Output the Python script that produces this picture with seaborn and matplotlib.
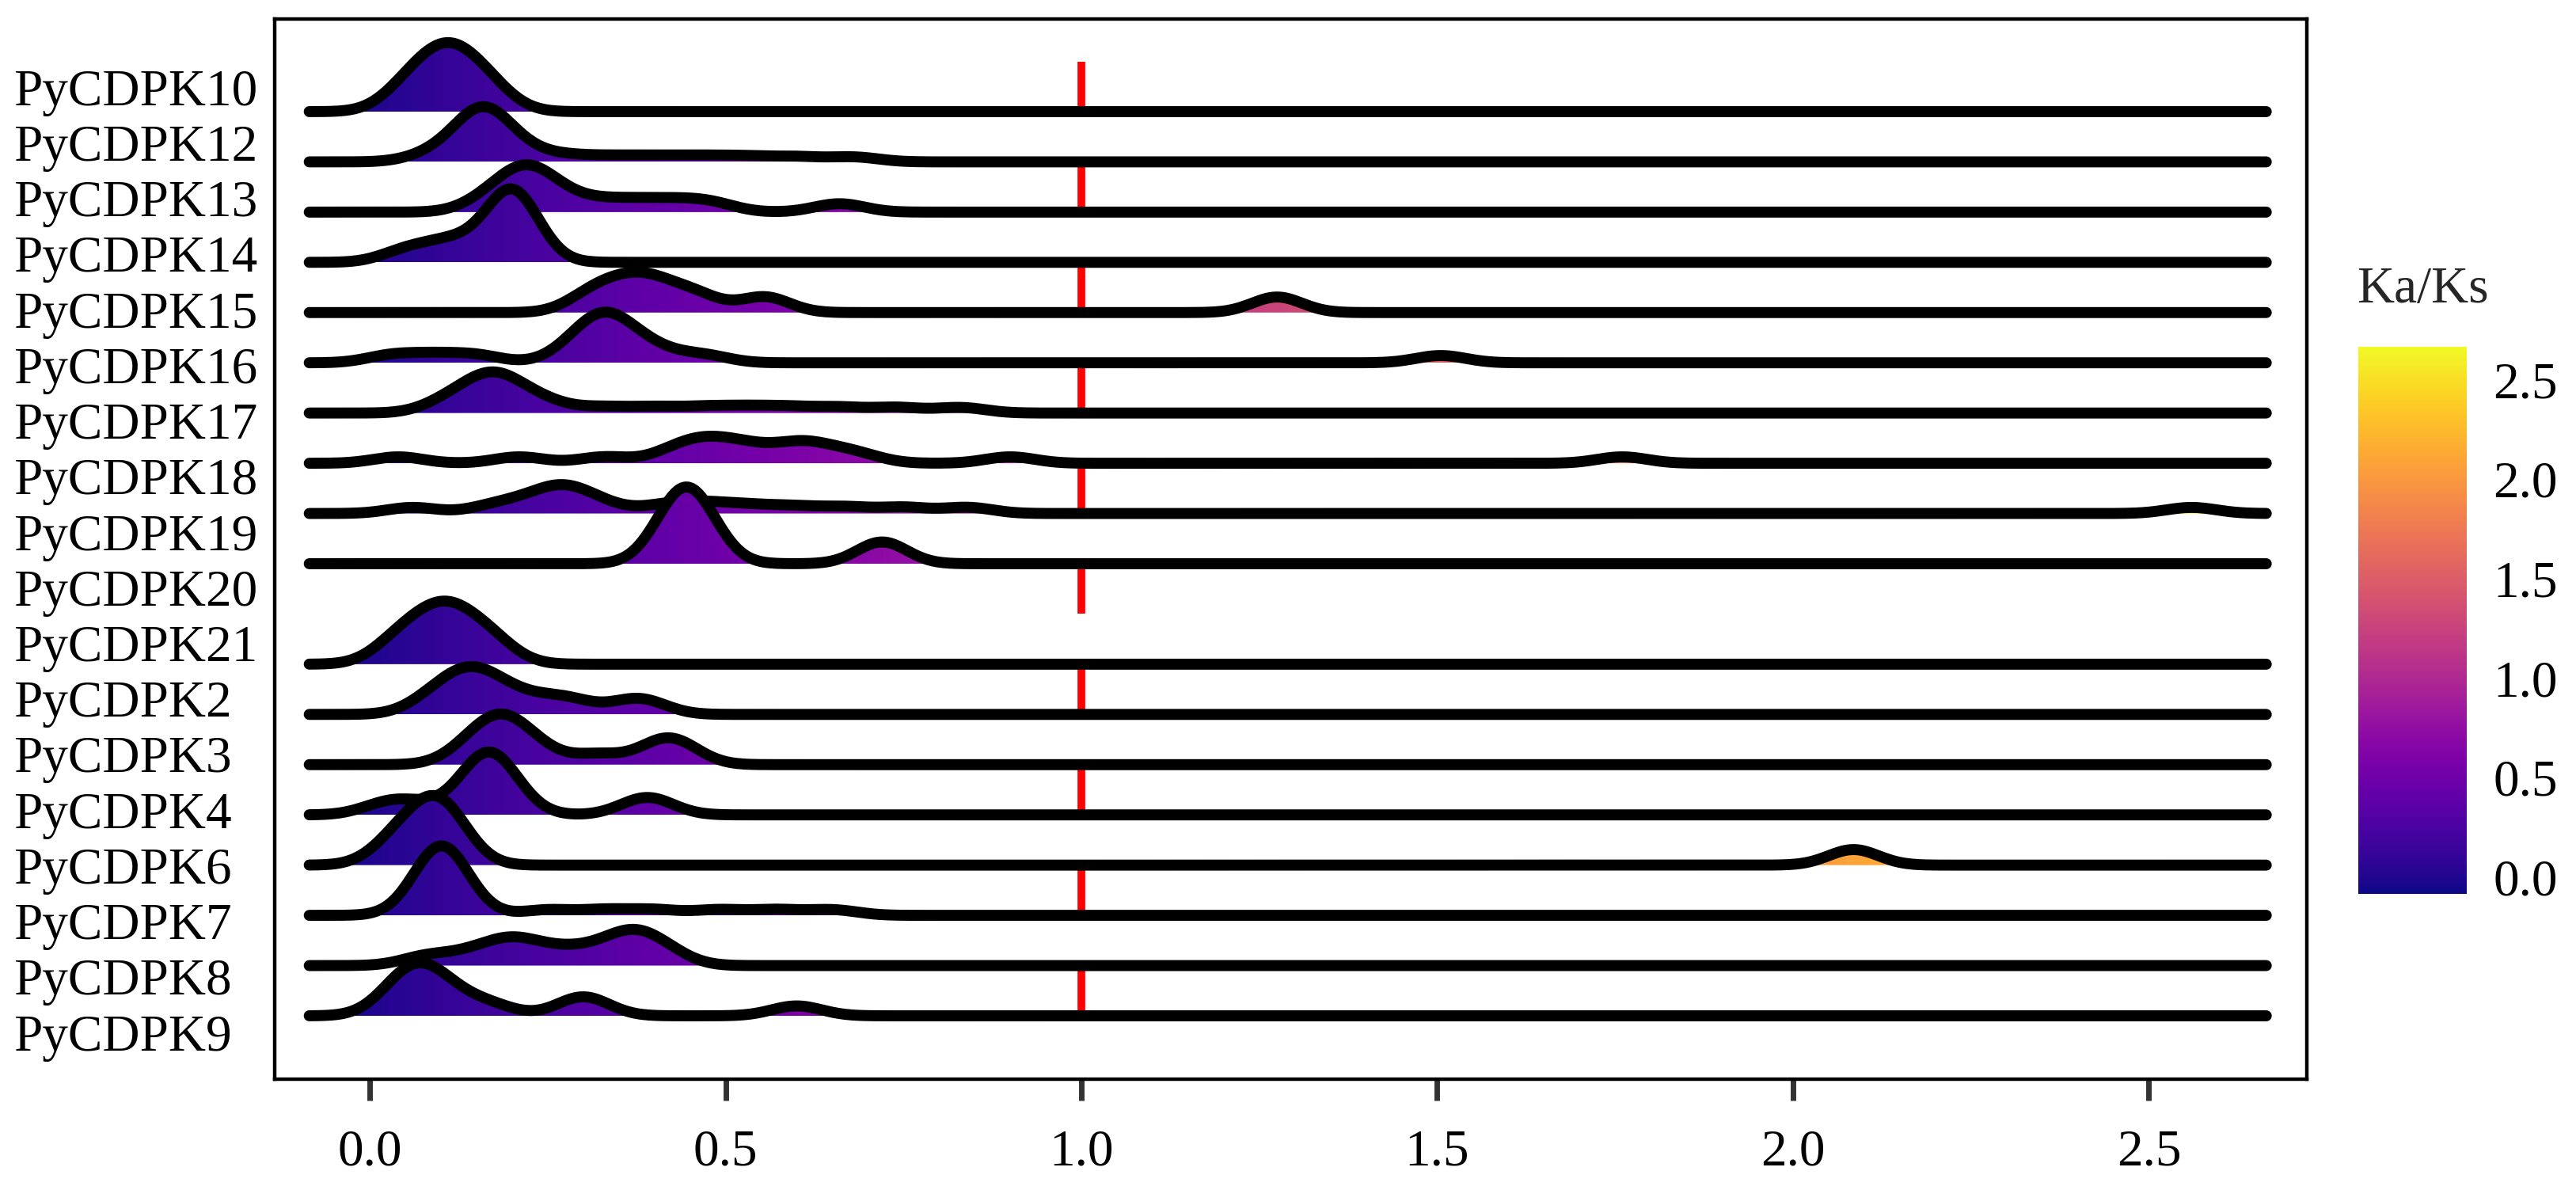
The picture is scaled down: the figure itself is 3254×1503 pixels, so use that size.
import numpy as np
import matplotlib
matplotlib.use("Agg")
import matplotlib.pyplot as plt
from matplotlib.transforms import Affine2D
from matplotlib.colors import Normalize
from matplotlib.cm import ScalarMappable
from matplotlib.ticker import FormatStrFormatter
import seaborn as sns

# Ka/Ks values per gene
kaks_10 = [0.045, 0.07, 0.09, 0.105, 0.115, 0.13, 0.15, 0.175]
kaks_12 = [0.08, 0.11, 0.13, 0.14, 0.145, 0.15, 0.155, 0.158, 0.16, 0.165, 0.17, 0.175,
           0.18, 0.19, 0.21, 0.24, 0.29, 0.35, 0.41, 0.47, 0.53, 0.60, 0.68]
kaks_13 = [0.16, 0.19, 0.205, 0.215, 0.225, 0.235, 0.25, 0.28, 0.33, 0.38, 0.43, 0.48, 0.66]
kaks_14 = [0.05, 0.10, 0.13, 0.18, 0.19, 0.195, 0.20, 0.205, 0.21, 0.22]
kaks_15 = [0.31, 0.35, 0.38, 0.41, 0.46, 0.555, 1.275]
kaks_16 = [0.03, 0.09, 0.15, 0.28, 0.30, 0.315, 0.325, 0.33, 0.335, 0.345, 0.36, 0.38,
           0.41, 0.47, 1.505]
kaks_17 = [0.10, 0.12, 0.14, 0.155, 0.165, 0.17, 0.175, 0.185, 0.195, 0.21, 0.23, 0.26,
           0.33, 0.40, 0.47, 0.53, 0.59, 0.66, 0.74, 0.83]
kaks_18 = [0.04, 0.21, 0.33, 0.42, 0.445, 0.465, 0.48, 0.50, 0.525, 0.545, 0.59, 0.605,
           0.62, 0.655, 0.69, 0.90, 1.76]
kaks_19 = [0.06, 0.17, 0.21, 0.24, 0.26, 0.27, 0.28, 0.30, 0.33, 0.41, 0.45, 0.49, 0.54,
           0.60, 0.67, 0.75, 0.84, 2.56]
kaks_20 = [0.42, 0.44, 0.45, 0.47, 0.72]
kaks_21 = [0.03, 0.05, 0.07, 0.09, 0.10, 0.11, 0.12, 0.14, 0.16, 0.18]
kaks_2 = [0.08, 0.105, 0.12, 0.135, 0.145, 0.155, 0.17, 0.19, 0.22, 0.26, 0.29, 0.365, 0.39]
kaks_3 = [0.135, 0.16, 0.175, 0.185, 0.195, 0.21, 0.24, 0.32, 0.40, 0.42, 0.44]
kaks_4 = [0.02, 0.06, 0.13, 0.15, 0.16, 0.165, 0.17, 0.175, 0.185, 0.20, 0.38, 0.40]
kaks_6 = [0.03, 0.06, 0.08, 0.095, 0.105, 0.12, 2.085]
kaks_7 = [0.07, 0.08, 0.085, 0.09, 0.095, 0.098, 0.10, 0.102, 0.105, 0.108, 0.11, 0.115,
          0.12, 0.13, 0.25, 0.33, 0.40, 0.49, 0.57, 0.65]
kaks_8 = [0.08, 0.14, 0.18, 0.20, 0.22, 0.26, 0.30, 0.34, 0.36, 0.375, 0.39, 0.42]
kaks_9 = [0.03, 0.05, 0.06, 0.07, 0.08, 0.10, 0.12, 0.17, 0.29, 0.31, 0.60]

genes = ["PyCDPK10", "PyCDPK12", "PyCDPK13", "PyCDPK14", "PyCDPK15", "PyCDPK16",
         "PyCDPK17", "PyCDPK18", "PyCDPK19", "PyCDPK20", "PyCDPK21", "PyCDPK2",
         "PyCDPK3", "PyCDPK4", "PyCDPK6", "PyCDPK7", "PyCDPK8", "PyCDPK9"]
values = [kaks_10, kaks_12, kaks_13, kaks_14, kaks_15, kaks_16, kaks_17, kaks_18, kaks_19,
          kaks_20, kaks_21, kaks_2, kaks_3, kaks_4, kaks_6, kaks_7, kaks_8, kaks_9]
# ridge row (0 = top); row 10 is left empty like in the original figure
rows = [0, 1, 2, 3, 4, 5, 6, 7, 8, 9, 11, 12, 13, 14, 15, 16, 17, 18]

x_ticks = [0.0, 0.5, 1.0, 1.5, 2.0, 2.5]

SIGMA = 0.035        # joint bandwidth
RIDGE_SCALE = 0.19   # row heights per density unit
FS = 47
N_ROWS = 19

sns.set_style("white")
plt.rcParams["font.family"] = ["Liberation Serif", "DejaVu Serif"]

fig = plt.figure(figsize=(32.55, 15.03), dpi=100)
ax = fig.add_axes([0.10661, 0.09315, 0.78863, 0.89088])

all_vals = np.concatenate([np.asarray(v) for v in values])
lo = all_vals.min() - 3 * SIGMA
hi = all_vals.max() + 3 * SIGMA
norm = Normalize(lo, hi)
grad = np.linspace(lo, hi, 600).reshape(1, -1)

for gene, vals, row in zip(genes, values, rows):
    base = N_ROWS - 1 - row
    tr = Affine2D().scale(1, RIDGE_SCALE).translate(0, base) + ax.transData
    bw = SIGMA / np.std(vals, ddof=1)
    z = 10 + 2 * row
    # filled shape, used as the clip path of a colour gradient
    sns.kdeplot(x=vals, ax=ax, bw_method=bw, cut=100, clip=(lo, hi), gridsize=600,
                fill=True, color="white", alpha=1, linewidth=0, transform=tr)
    poly = ax.collections[-1]
    path = poly.get_paths()[0]
    ptr = poly.get_transform()
    poly.remove()
    im = ax.imshow(grad, extent=(lo, hi, base, base + 3), aspect="auto", cmap="plasma",
                   norm=norm, origin="lower", interpolation="nearest", zorder=z)
    im.set_clip_path(path, ptr)
    # outline
    sns.kdeplot(x=vals, ax=ax, bw_method=bw, cut=100, clip=(lo, hi), gridsize=600,
                color="black", linewidth=10, solid_capstyle="round",
                solid_joinstyle="round", zorder=z + 1, transform=tr)

ax.set_xlim(-0.1335, 2.722)
ax.set_ylim(-1.261, 19.844)

# red dashed reference line at Ka/Ks = 1: one dash every second row gap
dash_top = np.arange(N_ROWS, 0, -2).astype(float)
ax.vlines(np.full_like(dash_top, 1.0), dash_top - 1, dash_top, color="#ff0000",
          linewidth=7, zorder=5)

label_y = np.linspace(18.49, -0.33, len(genes))
ax.set_yticks(label_y, genes)
for lab in ax.get_yticklabels():
    lab.set_horizontalalignment("left")
ax.set_xticks(x_ticks)
ax.xaxis.set_major_formatter(FormatStrFormatter("%.1f"))
ax.tick_params(axis="y", length=0, pad=(347 - 17) * 0.72, labelsize=FS,
               labelcolor="black")
ax.tick_params(axis="x", length=19.5, width=5, color="#333333", pad=26,
               labelsize=FS, labelcolor="black", bottom=True)
ax.set_xlabel("")
ax.set_ylabel("")
for sp in ax.spines.values():
    sp.set_visible(True)
    sp.set_color("black")
    sp.set_linewidth(3.2)

# colour bar
cax = fig.add_axes([0.9152, 0.2489, 0.0421, 0.4597])
cb = fig.colorbar(ScalarMappable(norm=norm, cmap="plasma"), cax=cax, ticks=x_ticks)
cb.outline.set_visible(False)
cax.yaxis.set_major_formatter(FormatStrFormatter("%.1f"))
cax.tick_params(axis="y", direction="in", length=19.5, width=2, color="white",
                left=True, right=True, labelsize=FS, labelcolor="black", pad=24)
fig.text(2977 / 3255, 1 - 366 / 1503, "Ka/Ks", ha="left", va="center", fontsize=FS)

fig.savefig("out.png", dpi=100)
